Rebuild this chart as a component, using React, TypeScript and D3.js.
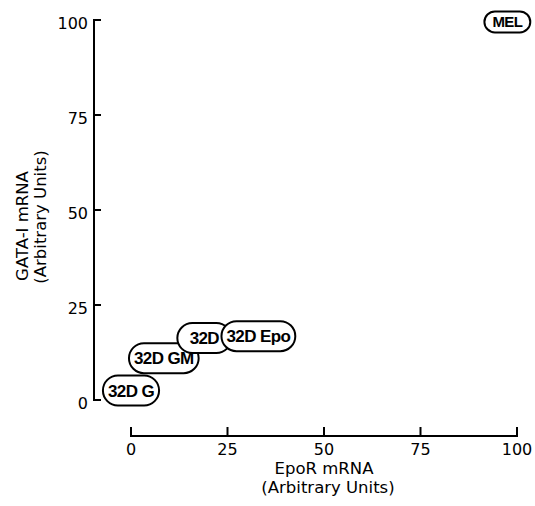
import React, { useEffect, useRef } from "react";
import * as d3 from "d3";

const cellLines = ["32D G", "32D GM", "32D", "32D Epo", "MEL"];
const eporValues = [0, 8.5, 19, 33, 97.5];
const gataValues = [2.5, 11, 16.3, 16.8, 99.5];
const tickValues = [0, 25, 50, 75, 100];

const W = 535;
const H = 506;
const FONT = "'DejaVu Sans', sans-serif";
const PILL_FONT = "'Liberation Sans', Arial, sans-serif";

function App() {
  const svgRef = useRef<SVGSVGElement | null>(null);

  useEffect(() => {
    const svg = d3.select(svgRef.current);
    svg.selectAll("*").remove();

    // scales
    const x = d3.scaleLinear().domain([0, 100]).range([131, 517]);
    const y = d3.scaleLinear().domain([0, 100]).range([400, 20]);

    // y axis, ticks pointing inward
    const yAxisX = 94;
    const gy = svg.append("g");
    gy.append("line")
      .attr("x1", yAxisX).attr("x2", yAxisX)
      .attr("y1", y(0) + 1).attr("y2", y(100) - 1)
      .attr("stroke", "#000").attr("stroke-width", 2);
    gy.selectAll("line.tick")
      .data(tickValues)
      .enter()
      .append("line")
      .attr("class", "tick")
      .attr("x1", yAxisX - 1).attr("x2", yAxisX + 7)
      .attr("y1", (d) => y(d)).attr("y2", (d) => y(d))
      .attr("stroke", "#000").attr("stroke-width", 2);
    gy.selectAll("text")
      .data(tickValues)
      .enter()
      .append("text")
      .attr("x", yAxisX - 6)
      .attr("y", (d) => y(d) + 3)
      .attr("dy", "0.36em")
      .attr("text-anchor", "end")
      .style("font-family", FONT)
      .style("font-size", "16px")
      .text((d) => d);

    // x axis, detached below the plot, ticks pointing up
    const xAxisY = 436;
    const gx = svg.append("g");
    gx.append("line")
      .attr("x1", x(0) - 1).attr("x2", x(100) + 1)
      .attr("y1", xAxisY).attr("y2", xAxisY)
      .attr("stroke", "#000").attr("stroke-width", 2);
    gx.selectAll("line.tick")
      .data(tickValues)
      .enter()
      .append("line")
      .attr("class", "tick")
      .attr("x1", (d) => x(d)).attr("x2", (d) => x(d))
      .attr("y1", xAxisY + 1).attr("y2", xAxisY - 9)
      .attr("stroke", "#000").attr("stroke-width", 2);
    gx.selectAll("text")
      .data(tickValues)
      .enter()
      .append("text")
      .attr("x", (d) => x(d))
      .attr("y", xAxisY + 19)
      .attr("text-anchor", "middle")
      .style("font-family", FONT)
      .style("font-size", "16px")
      .text((d) => d);

    // axis titles
    const titles = svg.append("g")
      .style("font-family", FONT)
      .style("font-size", "16.5px")
      .attr("text-anchor", "middle");
    titles.append("text").attr("x", 324).attr("y", 474).text("EpoR mRNA");
    titles.append("text").attr("x", 328).attr("y", 493).text("(Arbitrary Units)");
    titles.append("text")
      .attr("transform", "translate(28,226) rotate(-90)")
      .text("GATA-I mRNA");
    titles.append("text")
      .attr("transform", "translate(46,217) rotate(-90)")
      .text("(Arbitrary Units)");

    // pill labels at each point
    const pts = cellLines.map((name, i) => ({ name, ex: eporValues[i], ga: gataValues[i] }));
    const pills = svg.append("g")
      .selectAll("g")
      .data(pts)
      .enter()
      .append("g")
      .attr("transform", (d) => `translate(${x(d.ex)},${y(d.ga)})`);

    pills.each(function (d) {
      const g = d3.select(this);
      const small = d.name === "MEL";
      const rect = g.append("rect").attr("fill", "#fff").attr("stroke", "#000").attr("stroke-width", 2);
      const t = g.append("text")
        .attr("text-anchor", "middle")
        .attr("dy", "0.36em")
        .style("font-family", PILL_FONT)
        .style("font-weight", "bold")
        .style("font-size", small ? "15px" : "17px")
        .style("letter-spacing", "-0.6px")
        .text(d.name);
      const bw = (t.node() as SVGTextElement).getComputedTextLength();
      const h = small ? 21 : 30;
      const w = Math.max(bw + (small ? 16 : 10), small ? 0 : 54);
      rect.attr("x", -w / 2).attr("y", -h / 2)
        .attr("width", w).attr("height", h)
        .attr("rx", h / 2).attr("ry", h / 2);
    });
  }, []);

  return (
    <svg
      ref={svgRef}
      width={W}
      height={H}
      style={{ position: "absolute", left: 0, top: 0, background: "#fff" }}
    />
  );
}

export default App;
